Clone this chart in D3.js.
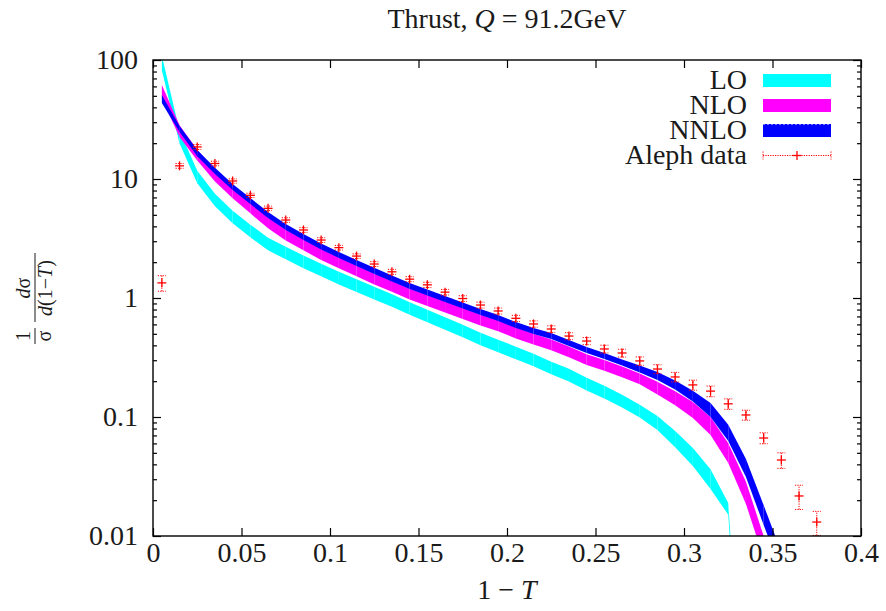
<!DOCTYPE html>
<html>
<head>
<meta charset="utf-8">
<title>Thrust distribution</title>
<script src="https://cdn.jsdelivr.net/npm/d3@7"></script>
<style>
  body { margin: 0; background: #fff; }
  svg, svg text, svg tspan { font-family: "Liberation Serif", "Times New Roman", Tinos, "DejaVu Serif", "Noto Serif", serif; }
  svg text { fill: #1a1a1a; }
  .axis path { display: none; }
  .axis line { stroke: #000; stroke-width: 1.2px; }
  .axis text { font-size: 28px; }
  .band { stroke: none; }
  .err { stroke: #ff0000; stroke-width: 1px; stroke-dasharray: 1.2,1.2; fill: none; }
  .pt { stroke: #ff0000; stroke-width: 1.3px; }
</style>
</head>
<body>
<svg width="886" height="611"></svg>
<script>
// bin centres of 1-T
var bins = [0.005, 0.015, 0.025, 0.035, 0.045, 0.055, 0.065, 0.075, 0.085, 0.095,
            0.105, 0.115, 0.125, 0.135, 0.145, 0.155, 0.165, 0.175, 0.185, 0.195,
            0.205, 0.215, 0.225, 0.235, 0.245, 0.255, 0.265, 0.275, 0.285, 0.295,
            0.305, 0.315, 0.325, 0.335, 0.345, 0.355, 0.365, 0.375];

// central values and scale-uncertainty factors of the bands
var loMid = [94.4, 22.5, 10.4, 6.66, 4.79, 3.66, 2.84, 2.39, 2.01, 1.72,
             1.47, 1.27, 1.10, 0.953, 0.816, 0.706, 0.611, 0.528, 0.452, 0.395,
             0.345, 0.301, 0.258, 0.225, 0.189, 0.162, 0.136, 0.112, 0.089, 0.0653,
             0.0461, 0.0301, 0.0169, 0.0001, null, null, null, null];
var loUnc = [1.15, 1.13, 1.13, 1.13, 1.13, 1.13, 1.13, 1.13, 1.13, 1.13,
             1.13, 1.13, 1.13, 1.13, 1.13, 1.13, 1.13, 1.13, 1.13, 1.13,
             1.13, 1.13, 1.13, 1.13, 1.13, 1.13, 1.13, 1.13, 1.145, 1.17,
             1.19, 1.21, 1.12, 1.12, null, null, null, null];

var nloMid = [53.8, 25.3, 15.9, 10.6, 7.63, 5.71, 4.27, 3.38, 2.79, 2.32,
              1.97, 1.69, 1.44, 1.25, 1.08, 0.953, 0.840, 0.741, 0.653, 0.582,
              0.508, 0.452, 0.403, 0.352, 0.303, 0.271, 0.239, 0.209, 0.175, 0.144,
              0.1145, 0.0841, 0.0498, 0.0230, 0.00808, 0.002, null, null];
var nloUnc = [1.145, 1.12, 1.11, 1.11, 1.11, 1.11, 1.11, 1.11, 1.11, 1.11,
              1.11, 1.11, 1.11, 1.11, 1.11, 1.11, 1.11, 1.11, 1.11, 1.11,
              1.11, 1.11, 1.11, 1.11, 1.11, 1.11, 1.11, 1.11, 1.13, 1.145,
              1.17, 1.19, 1.21, 1.24, 1.24, 1.24, null, null];

var nnloMid = [47.0, 26.3, 16.5, 11.7, 8.57, 6.53, 4.98, 3.95, 3.26, 2.71,
               2.30, 1.97, 1.69, 1.46, 1.26, 1.11, 0.981, 0.865, 0.763, 0.679,
               0.593, 0.528, 0.479, 0.418, 0.365, 0.325, 0.287, 0.253, 0.221, 0.186,
               0.150, 0.1145, 0.0734, 0.0373, 0.0150, 0.00605, 0.001, null];
var nnloUnc = [1.08, 1.06, 1.06, 1.06, 1.06, 1.06, 1.06, 1.06, 1.06, 1.06,
               1.06, 1.06, 1.06, 1.06, 1.06, 1.06, 1.06, 1.06, 1.06, 1.06,
               1.06, 1.06, 1.06, 1.06, 1.06, 1.06, 1.06, 1.07, 1.08, 1.09,
               1.11, 1.145, 1.17, 1.19, 1.21, 1.21, 1.21, null];

// Aleph measurement
var aleph = [1.34, 12.9, 18.6, 13.5, 9.62, 7.29, 5.67, 4.52, 3.73, 3.07,
             2.65, 2.25, 1.93, 1.66, 1.44, 1.29, 1.12, 0.99, 0.873, 0.778,
             0.675, 0.605, 0.549, 0.479, 0.435, 0.373, 0.345, 0.296, 0.253, 0.217,
             0.186, 0.165, 0.129, 0.104, 0.0666, 0.0435, 0.0217, 0.0131];
var alephErr = [0.2, 0.6, 0.9, 0.6, 0.4, 0.3, 0.25, 0.2, 0.17, 0.14,
                0.12, 0.1, 0.09, 0.08, 0.07, 0.065, 0.06, 0.055, 0.05, 0.045,
                0.04, 0.037, 0.035, 0.032, 0.03, 0.028, 0.026, 0.024, 0.022, 0.02,
                0.018, 0.017, 0.013, 0.01, 0.007, 0.0065, 0.005, 0.003];

var xTicks = [0, 0.05, 0.1, 0.15, 0.2, 0.25, 0.3, 0.35, 0.4];
var xTickLabels = ["0", "0.05", "0.1", "0.15", "0.2", "0.25", "0.3", "0.35", "0.4"];
var yTicks = [0.01, 0.1, 1, 10, 100];
var yTickLabels = ["0.01", "0.1", "1", "10", "100"];
var yMinor = [0.02, 0.03, 0.04, 0.05, 0.06, 0.07, 0.08, 0.09,
              0.2, 0.3, 0.4, 0.5, 0.6, 0.7, 0.8, 0.9,
              2, 3, 4, 5, 6, 7, 8, 9,
              20, 30, 40, 50, 60, 70, 80, 90];

var series = [
  {name: "LO", mid: loMid, unc: loUnc, color: "#00ffff"},
  {name: "NLO", mid: nloMid, unc: nloUnc, color: "#ff00ff"},
  {name: "NNLO", mid: nnloMid, unc: nnloUnc, color: "#0000ff"}
];

var serif = "'Liberation Serif', 'Times New Roman', Tinos, 'DejaVu Serif', serif";

var svg = d3.select("svg"),
    margin = {top: 60, right: 25, bottom: 75, left: 153},
    width = +svg.attr("width") - margin.left - margin.right,
    height = +svg.attr("height") - margin.top - margin.bottom,
    g = svg.append("g").attr("transform", "translate(" + margin.left + "," + margin.top + ")");

var x = d3.scaleLinear().domain([0, 0.4]).range([0, width]),
    y = d3.scaleLog().domain([0.01, 100]).range([height, 0]);

g.append("clipPath").attr("id", "clip")
  .append("rect").attr("width", width).attr("height", height);

var plot = g.append("g").attr("clip-path", "url(#clip)");

var area = d3.area()
    .x(function(d) { return x(d.x); })
    .y0(function(d) { return y(d.mid / d.unc); })
    .y1(function(d) { return y(d.mid * d.unc); });

// each band is filled segment by segment, as gnuplot does
series.forEach(function(s) {
  var pts = bins.map(function(b, i) { return {x: b, mid: s.mid[i], unc: s.unc[i]}; });
  for (var i = 0; i < pts.length - 1; i++) {
    if (pts[i].mid == null || pts[i + 1].mid == null) continue;
    plot.append("path")
        .attr("class", "band")
        .attr("fill", s.color)
        .attr("d", area([pts[i], pts[i + 1]]));
  }
});

// data with error bars
var data = bins.map(function(b, i) { return {x: b, v: aleph[i], e: alephErr[i]}; });
var pt = plot.selectAll(".aleph").data(data).enter().append("g").attr("class", "aleph");

pt.append("line").attr("class", "err")
    .attr("x1", function(d) { return x(d.x); }).attr("x2", function(d) { return x(d.x); })
    .attr("y1", function(d) { return y(d.v - d.e); }).attr("y2", function(d) { return y(d.v + d.e); });
pt.append("line").attr("class", "err")
    .attr("x1", function(d) { return x(d.x) - 4; }).attr("x2", function(d) { return x(d.x) + 4; })
    .attr("y1", function(d) { return y(d.v - d.e); }).attr("y2", function(d) { return y(d.v - d.e); });
pt.append("line").attr("class", "err")
    .attr("x1", function(d) { return x(d.x) - 4; }).attr("x2", function(d) { return x(d.x) + 4; })
    .attr("y1", function(d) { return y(d.v + d.e); }).attr("y2", function(d) { return y(d.v + d.e); });
pt.append("line").attr("class", "pt")
    .attr("x1", function(d) { return x(d.x) - 4.5; }).attr("x2", function(d) { return x(d.x) + 4.5; })
    .attr("y1", function(d) { return y(d.v); }).attr("y2", function(d) { return y(d.v); });
pt.append("line").attr("class", "pt")
    .attr("x1", function(d) { return x(d.x); }).attr("x2", function(d) { return x(d.x); })
    .attr("y1", function(d) { return y(d.v) - 4.5; }).attr("y2", function(d) { return y(d.v) + 4.5; });

// axes, ticks pointing inward on all four sides
g.append("g")
    .attr("class", "axis")
    .attr("transform", "translate(0," + height + ")")
    .call(d3.axisBottom(x).tickValues(xTicks).tickSize(-8).tickPadding(6)
      .tickFormat(function(d, i) { return xTickLabels[i]; }));

g.append("g")
    .attr("class", "axis")
    .call(d3.axisTop(x).tickValues(xTicks).tickSize(-8).tickFormat(""));

g.append("g")
    .attr("class", "axis")
    .call(d3.axisLeft(y).tickValues(yTicks).tickSize(-8).tickPadding(15)
      .tickFormat(function(d, i) { return yTickLabels[i]; }));

g.append("g")
    .attr("class", "axis")
    .call(d3.axisLeft(y).tickValues(yMinor).tickSize(-4).tickFormat(""));

g.append("g")
    .attr("class", "axis")
    .attr("transform", "translate(" + width + ",0)")
    .call(d3.axisRight(y).tickValues(yTicks).tickSize(-8).tickFormat(""));

g.append("g")
    .attr("class", "axis")
    .attr("transform", "translate(" + width + ",0)")
    .call(d3.axisRight(y).tickValues(yMinor).tickSize(-4).tickFormat(""));

g.selectAll(".axis").attr("font-family", serif);

g.append("rect")
    .attr("width", width).attr("height", height)
    .attr("fill", "none").attr("stroke", "#000").attr("stroke-width", 1.4);

// title
var title = svg.append("text")
    .attr("x", margin.left + width / 2).attr("y", 28)
    .attr("text-anchor", "middle").style("font-size", "28px");
title.append("tspan").text("Thrust, ");
title.append("tspan").style("font-style", "italic").text("Q");
title.append("tspan").text(" = 91.2GeV");

// x label
var xl = svg.append("text")
    .attr("x", margin.left + width / 2).attr("y", 599)
    .attr("text-anchor", "middle").style("font-size", "28px");
xl.append("tspan").text("1 \u2212 ");
xl.append("tspan").style("font-style", "italic").text("T");

// y label: 1/σ dσ/d(1-T), rotated
var yl = svg.append("g").attr("transform", "translate(35,0) rotate(-90)").style("font-size", "20px");
yl.append("line").attr("x1", -344).attr("x2", -328).attr("y1", 0).attr("y2", 0)
    .attr("stroke", "#1a1a1a").attr("stroke-width", 1);
yl.append("text").attr("x", -336).attr("y", -5).attr("text-anchor", "middle").text("1");
yl.append("text").attr("x", -336).attr("y", 16).attr("text-anchor", "middle").text("\u03c3");
yl.append("line").attr("x1", -322).attr("x2", -253).attr("y1", 0).attr("y2", 0)
    .attr("stroke", "#1a1a1a").attr("stroke-width", 1);
var num = yl.append("text").attr("x", -288).attr("y", -5).attr("text-anchor", "middle");
num.append("tspan").style("font-style", "italic").text("d");
num.append("tspan").text("\u03c3");
var den = yl.append("text").attr("x", -288).attr("y", 17).attr("text-anchor", "middle");
den.append("tspan").style("font-style", "italic").text("d");
den.append("tspan").text("(1\u2212");
den.append("tspan").style("font-style", "italic").text("T");
den.append("tspan").text(")");

// legend
var legend = svg.append("g").attr("transform", "translate(763,80.5)");
var rows = series.map(function(s) { return s.name; }).concat(["Aleph data"]);
rows.forEach(function(name, i) {
  var row = legend.append("g").attr("transform", "translate(0," + i * 25 + ")");
  row.append("text").attr("x", -16).attr("y", 8).attr("text-anchor", "end")
      .style("font-size", "28px").text(name);
  if (i < 3) {
    row.append("rect").attr("x", 0).attr("y", -6.5).attr("width", 68).attr("height", 13)
        .attr("fill", series[i].color);
    if (i == 2) {
      row.append("line").attr("x1", 0).attr("x2", 68).attr("y1", -6).attr("y2", -6)
          .attr("stroke", "#8080ff").attr("stroke-dasharray", "2,2");
    }
  } else {
    row.append("line").attr("class", "err").attr("x1", 0).attr("x2", 68).attr("y1", 0).attr("y2", 0);
    row.append("line").attr("class", "err").attr("x1", 0).attr("x2", 0).attr("y1", -4).attr("y2", 4);
    row.append("line").attr("class", "err").attr("x1", 68).attr("x2", 68).attr("y1", -4).attr("y2", 4);
    row.append("line").attr("class", "pt").attr("x1", 29.5).attr("x2", 38.5).attr("y1", 0).attr("y2", 0);
    row.append("line").attr("class", "pt").attr("x1", 34).attr("x2", 34).attr("y1", -4.5).attr("y2", 4.5);
  }
});
</script>
</body>
</html>
